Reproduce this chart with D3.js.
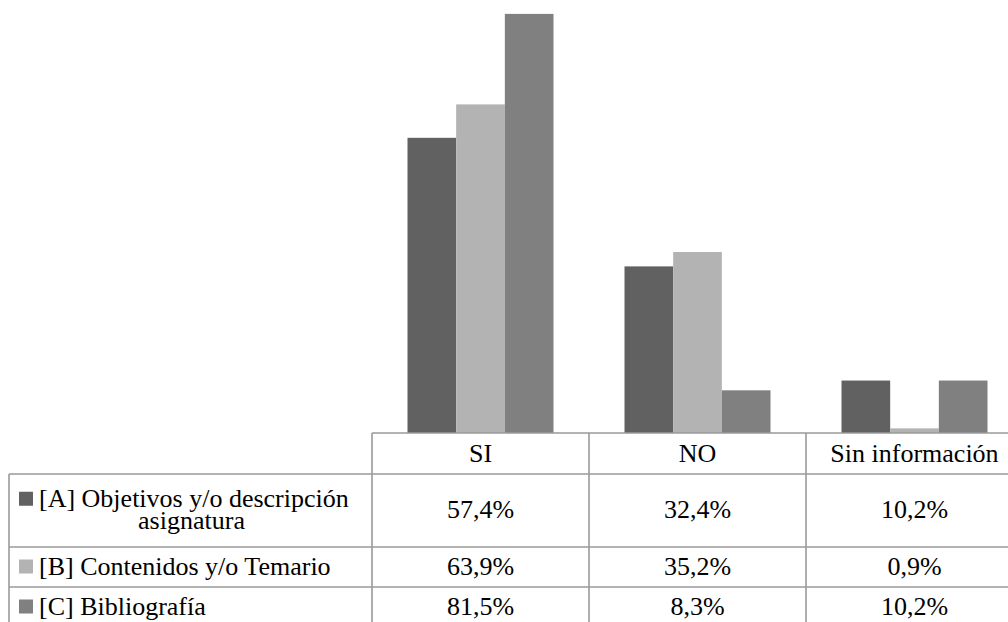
<!DOCTYPE html>
<html>
<head>
<meta charset="utf-8">
<script src="https://cdn.jsdelivr.net/npm/d3@7"></script>
</head>
<body style="margin:0">
<svg id="s" width="1008" height="622"></svg>
<script>
// Categories shown along the table header
const categories = ["SI", "NO", "Sin información"];

// One entry per series (row of the data table)
const seriesKeys = ["A", "B", "C"];
const seriesLabels = [
  ["[A] Objetivos y/o descripción", "asignatura"],
  ["[B] Contenidos y/o Temario"],
  ["[C] Bibliografía"]
];
const seriesColors = ["#616161", "#b3b3b3", "#808080"];

// Percentages per series, in category order
const valuesA = [57.4, 32.4, 10.2];
const valuesB = [63.9, 35.2, 0.9];
const valuesC = [81.5, 8.3, 10.2];
const seriesValues = [valuesA, valuesB, valuesC];

const fmt = v => d3.format(".1f")(v).replace(".", ",") + "%";
const fontName = "Liberation Serif";
const fontSize = 26;

const svg = d3.select("#s");

// Layout of plot + data table
const tableLeft = 9;
const plotLeft = 372;
const colWidth = 217;
const baseY = 433;
const rowHeights = [41, 73, 40, 40]; // header, A, B, C
const rowTops = [baseY];
rowHeights.forEach((h, i) => rowTops.push(rowTops[i] + h));

const x = d3.scaleBand()
  .domain(categories)
  .range([plotLeft, plotLeft + colWidth * categories.length])
  .padding(0);

const groupPad = 35.5;
const xInner = d3.scaleBand()
  .domain(seriesKeys)
  .range([groupPad, x.bandwidth() - groupPad])
  .padding(0);

const y = d3.scaleLinear().domain([0, 84.2]).range([baseY, 0]);

// Bars
const barData = [];
seriesKeys.forEach((k, si) => {
  categories.forEach((c, ci) => {
    barData.push({ key: k, cat: c, value: seriesValues[si][ci], color: seriesColors[si] });
  });
});

svg.selectAll("rect.bar")
  .data(barData)
  .join("rect")
  .attr("class", "bar")
  .attr("x", d => x(d.cat) + xInner(d.key))
  .attr("y", d => y(d.value))
  .attr("width", xInner.bandwidth())
  .attr("height", d => y(0) - y(d.value))
  .attr("fill", d => d.color);

// Data table grid lines
const rightEdge = plotLeft + colWidth * categories.length;
const bottom = rowTops[rowTops.length - 1];
const gridLines = [
  // header top line (only across the category columns)
  [plotLeft, rowTops[0], rightEdge, rowTops[0]],
  // left border of the label column
  [tableLeft, rowTops[1], tableLeft, bottom],
  [rightEdge, rowTops[0], rightEdge, bottom]
];
rowTops.slice(1).forEach(t => gridLines.push([tableLeft, t, rightEdge, t]));
categories.forEach(c => gridLines.push([x(c), rowTops[0], x(c), bottom]));

svg.selectAll("line.grid")
  .data(gridLines)
  .join("line")
  .attr("class", "grid")
  .attr("x1", d => d[0]).attr("y1", d => d[1])
  .attr("x2", d => d[2]).attr("y2", d => d[3])
  .attr("stroke", "#9a9a9a")
  .attr("stroke-width", 1.6);

// Legend keys in the label column
const keyData = seriesKeys.map((k, si) => {
  const top = rowTops[si + 1];
  const h = rowHeights[si + 1];
  const n = seriesLabels[si].length;
  return { color: seriesColors[si], base: top + h / 2 + 7.5 - (n - 1) * 11.25 };
});
svg.selectAll("rect.key")
  .data(keyData)
  .join("rect")
  .attr("class", "key")
  .attr("x", 19)
  .attr("y", d => d.base - 15)
  .attr("width", 14)
  .attr("height", 14)
  .attr("fill", d => d.color);

// All table texts: header, series labels, values
const texts = [];
categories.forEach(c => texts.push({
  t: c, x: x(c) + x.bandwidth() / 2, y: rowTops[0] + rowHeights[0] / 2 + 8, anchor: "middle"
}));
seriesKeys.forEach((k, si) => {
  const top = rowTops[si + 1];
  const h = rowHeights[si + 1];
  seriesLabels[si].forEach((ln, li) => texts.push({
    t: ln,
    x: li === 0 ? 39 : (tableLeft + plotLeft) / 2 + 1,
    y: keyData[si].base + li * 22.5,
    anchor: li === 0 ? "start" : "middle"
  }));
  seriesValues[si].forEach((v, ci) => texts.push({
    t: fmt(v), x: x(categories[ci]) + x.bandwidth() / 2, y: top + h / 2 + 7.5, anchor: "middle"
  }));
});

svg.selectAll("text")
  .data(texts)
  .join("text")
  .attr("x", d => d.x)
  .attr("y", d => d.y)
  .attr("text-anchor", d => d.anchor)
  .attr("font-size", fontSize)
  .style("font-family", () => `'${fontName}'`)
  .text(d => d.t);
</script>
</body>
</html>
